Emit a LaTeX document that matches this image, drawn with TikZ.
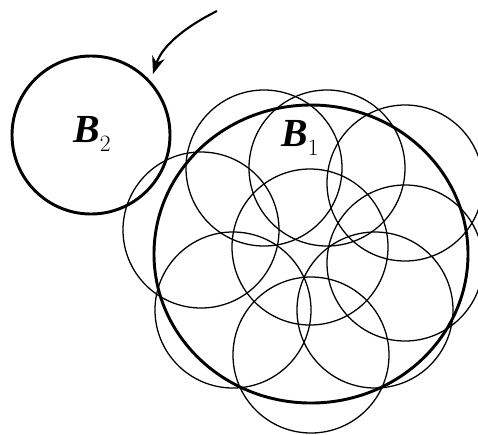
\documentclass[tikz,border=0pt]{standalone}
\usepackage{fontspec}
\newfontfamily\ballfont{Liberation Serif}
\usetikzlibrary{shapes.geometric, arrows.meta}
\newcommand{\ballname}[1]{{\ballfont\bfseries\itshape B}\raisebox{-7pt}{\fontsize{20}{20}\selectfont #1}}

\begin{document}
\begin{tikzpicture}[x=0.03cm, y=-0.03cm]
        % Cover of B1 by small balls
        \tikzset{
          cover/.style={black, line width=1.1pt},
          ball/.style={draw, line width=2.5pt, inner sep=0},
          blabel/.style={font=\fontsize{34}{40}\selectfont, inner sep=0}
        }
        \useasboundingbox (0,0) rectangle (478,434);

        % Small balls
        \draw[cover] (264,168) circle (78);
        \draw[cover] (327,168) circle (78);
        \draw[cover] (405,183) circle (78);
        \draw[cover] (201,230) circle (78);
        \draw[cover] (310,247) circle (78);
        \draw[cover] (405,263) circle (78);
        \draw[cover] (233,310) circle (78);
        \draw[cover] (375,310) circle (78);
        \draw[cover] (311,355) circle (78);

        % Big ball B1
        \node[ball, ellipse, minimum width=9.42cm, minimum height=8.94cm] (b1) at (311,254) {};
        \node[blabel] (b1name) at (300,138) {\ballname{1}};

        % Ball B2
        \node[ball, circle, minimum size=4.74cm] (b2) at (91,135) {};
        \node[blabel] (b2name) at (92,134) {\ballname{2}};

        % Arrow
        \coordinate (arrowtail) at (217,11);
        \coordinate (arrowtip) at (153,74);
        \draw[line width=1.8pt, -{Stealth[length=15pt, width=11pt]}]
          (arrowtail) .. controls (185,27) and (162,46) .. (arrowtip);
      \end{tikzpicture}
\end{document}
